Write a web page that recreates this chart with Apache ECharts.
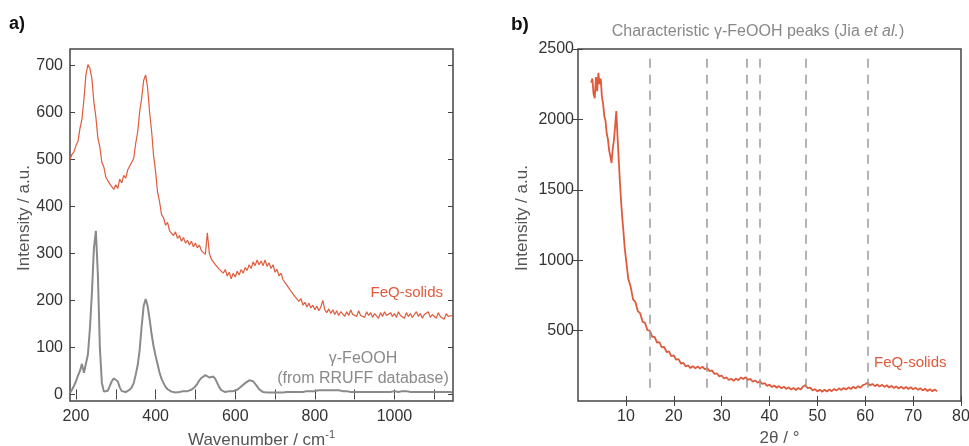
<!DOCTYPE html>
<html><head><meta charset="utf-8">
<script src="https://cdn.jsdelivr.net/npm/echarts@6/dist/echarts.min.js"></script>
<style>html,body{margin:0;padding:0;background:#fff}#c{width:969px;height:446px}</style>
</head><body><div id="c"></div>
<script>
// ---- Panel a) Raman ----
const ramanStart = 185, ramanStep = 5;   // wavenumber grid (cm-1)
const feqSolidsRaman = [
 500,511,516,530,538,566,585,628,680,702,
 694,672,622,590,546,526,494,484,462,466,
 448,452,436,446,438,458,450,466,460,478,
 474,494,502,534,558,602,630,668,680,652,
 600,560,508,474,430,410,382,376,360,366,
 348,352,338,346,332,338,326,334,322,328,
 318,326,314,322,312,318,306,310,298,344,
 300,288,290,276,280,266,270,258,266,252,
 260,246,258,250,262,254,266,258,270,264,
 276,268,282,274,286,276,284,274,286,272,
 280,268,276,260,266,252,258,244,248,232,
 236,220,224,208,212,198,204,190,196,186,
 194,184,190,180,188,178,186,200,180,174,
 182,172,180,170,178,168,176,172,166,176,
 168,180,170,174,166,178,168,172,164,176,
 168,174,164,172,168,162,174,166,176,168,
 164,174,166,172,164,176,168,170,162,174,
 166,172,164,170,176,166,172,162,170,166,
 176,164,170,168,162,174,166,170,160,172,
 166,170,168
];
const feoohRaman = [
 3,10,18,28,40,50,65,46,44,85,
 140,215,310,348,255,100,25,6,4,8,
 18,28,34,35,28,15,7,5,5,6,
 10,15,24,42,62,95,145,188,203,188,
 160,128,102,82,64,46,33,24,16,11,
 8,6,5,4,4,5,6,7,8,7,
 8,10,13,17,23,30,35,39,41,38,
 36,39,38,33,24,15,9,6,5,6,
 7,8,7,8,10,13,17,20,24,28,
 30,31,28,24,17,11,7,5,4,4,
 3,4,3,4,5,4,5,4,4,5,
 4,5,4,5,6,5,6,5,6,7,
 6,7,8,7,8,9,8,9,10,9,
 10,9,10,9,8,9,8,7,6,7,
 6,5,6,5,6,5,4,5,4,5,
 4,5,4,5,4,5,6,5,4,5,
 4,5,6,7,6,5,6,7,8,7,
 6,5,6,5,4,5,4,5,6,5,
 4,5,4,5,6,5,4,5,4,5,
 4,5,4
];
const ramanXMin = 185, ramanXMax = 1147, ramanYMin = -14, ramanYMax = 735;
const ramanXTicks = [200,300,400,500,600,700,800,900,1000,1100];
const ramanXLabels = [200,400,600,800,1000];
const ramanYTicks = [0,100,200,300,400,500,600,700];

// ---- Panel b) XRD ----
const xrdLowStart = 2.75, xrdLowStep = 0.25;
const xrdLow = [
 2260,2290,2180,2150,2300,2200,2330,2250,2290,2160,
 2110,2020,1990,1900,1860,1780,1740,1690,1790,1850,
 1950,2060,1880,1720,1560,1420,1300,1200,1090
];
const xrdHighStart = 10, xrdHighStep = 0.5;
const xrdHigh = [
 1015,868,812,722,702,638,622,562,556,503,
 500,455,456,414,418,380,384,348,352,318,
 324,293,297,266,271,245,253,234,248,232,
 246,230,244,225,234,212,217,192,197,175,
 181,160,168,149,158,143,159,148,167,156,
 169,150,157,137,146,130,141,121,127,107,
 117,99,110,94,106,90,102,86,97,81,
 93,78,92,81,103,113,91,95,75,85,
 68,81,66,80,67,82,70,86,74,90,
 78,93,81,97,85,101,89,105,94,113,
 119,129,111,121,105,117,102,115,100,112,
 96,108,92,104,89,102,87,100,85,98,
 83,95,79,91,75,87,71,84,69,81,
 70
];
const xrdXTicks = [10,20,30,40,50,60,70,80];
const xrdYTicks = [500,1000,1500,2000,2500];
const peakPositions = [15.0, 26.9, 35.2, 37.9, 47.6, 60.5];
const peakLineTop = 2430, peakLineBottom = 70;

// ---- build ----
const ramanPairs = arr => arr.map((v, i) => [ramanStart + i * ramanStep, v]);
const xrdPairs = xrdLow.map((v, i) => [xrdLowStart + i * xrdLowStep, v])
  .concat(xrdHigh.map((v, i) => [xrdHighStart + i * xrdHighStep, v]));

const FONT = "'Liberation Sans', Arial, Helvetica, sans-serif";
const RED = '#e05a3c', GRAY = '#8a8a8a', FRAME = '#444';
const tick = vals => ({show: true, inside: true, length: 5, customValues: vals, lineStyle: {color: FRAME, width: 1}});
const label = (vals, margin) => ({show: true, customValues: vals, margin: margin, formatter: v => String(v),
  color: '#333', fontSize: 16, fontFamily: FONT});
const nameStyle = extra => Object.assign({color: '#555', fontSize: 17, fontFamily: FONT}, extra);

function axis(grid, pos, min, max, ticks, labels, margin, extra) {
  return Object.assign({
    type: 'value', gridIndex: grid, position: pos, min: min, max: max,
    axisLine: {show: false}, splitLine: {show: false},
    axisTick: tick(ticks),
    axisLabel: labels ? label(labels, margin) : {show: false}
  }, extra || {});
}

const chart = echarts.init(document.getElementById('c'), null, {renderer: 'canvas'});
chart.setOption({
  animation: false,
  backgroundColor: '#fff',
  grid: [
    {left: 70, top: 49, right: 516, bottom: 45, outerBoundsMode: 'none', containLabel: false,
     show: true, borderColor: FRAME, borderWidth: 1.5, backgroundColor: 'transparent'},
    {left: 578, top: 49, right: 8, bottom: 45, outerBoundsMode: 'none', containLabel: false,
     show: true, borderColor: FRAME, borderWidth: 1.5, backgroundColor: 'transparent'}
  ],
  xAxis: [
    axis(0, 'bottom', ramanXMin, ramanXMax, ramanXTicks, ramanXLabels, 8, {
      name: 'Wavenumber / cm{sup|-1}', nameLocation: 'middle', nameGap: 27,
      nameTextStyle: nameStyle({rich: {sup: {fontSize: 11, color: '#555', fontFamily: FONT, padding: [0, 0, 9, 0]}}})}),
    axis(0, 'top', ramanXMin, ramanXMax, ramanXTicks, null),
    axis(1, 'bottom', 0, 80, xrdXTicks, xrdXTicks, 8, {
      name: '2θ / °', nameLocation: 'middle', nameGap: 27,
      nameTextStyle: nameStyle({padding: [0, 0, 0, 20]})}),
    axis(1, 'top', 0, 80, xrdXTicks, null)
  ],
  yAxis: [
    axis(0, 'left', ramanYMin, ramanYMax, ramanYTicks, ramanYTicks, 7, {
      name: 'Intensity / a.u.', nameLocation: 'middle', nameGap: 37,
      nameTextStyle: nameStyle({padding: [0, 0, 0, 14]})}),
    axis(0, 'right', ramanYMin, ramanYMax, ramanYTicks, null),
    axis(1, 'left', 0, 2500, xrdYTicks, xrdYTicks, 4, {
      name: 'Intensity / a.u.', nameLocation: 'middle', nameGap: 47,
      nameTextStyle: nameStyle({padding: [0, 0, 0, 14]})}),
    axis(1, 'right', 0, 2500, xrdYTicks, null)
  ],
  series: [
    {type: 'line', xAxisIndex: 0, yAxisIndex: 0, data: ramanPairs(feoohRaman), showSymbol: false,
     lineStyle: {color: GRAY, width: 2}, silent: true},
    {type: 'line', xAxisIndex: 0, yAxisIndex: 0, data: ramanPairs(feqSolidsRaman), showSymbol: false,
     lineStyle: {color: RED, width: 1.2}, silent: true},
    {type: 'line', xAxisIndex: 2, yAxisIndex: 2, data: xrdPairs, showSymbol: false,
     lineStyle: {color: RED, width: 1.8}, silent: true,
     markLine: {silent: true, symbol: ['none', 'none'], label: {show: false},
       lineStyle: {color: '#999', width: 1.5, type: [9, 7]},
       data: peakPositions.map(p => [{coord: [p, peakLineTop]}, {coord: [p, peakLineBottom]}])}}
  ],
  graphic: [
    {type: 'text', left: 9, top: 15, style: {text: 'a)', fontSize: 18, fontWeight: 'bold', fill: '#111', fontFamily: FONT}},
    {type: 'text', left: 511, top: 15, style: {text: 'b)', fontSize: 19, fontWeight: 'bold', fill: '#111', fontFamily: FONT}},
    {type: 'text', x: 758, y: 32, style: {
      text: 'Characteristic γ-FeOOH peaks (Jia {it|et al.})',
      rich: {it: {fontStyle: 'italic', fontSize: 16, fill: '#888', fontFamily: FONT}},
      fontSize: 16, fill: '#888', fontFamily: FONT, align: 'center', verticalAlign: 'middle'}},
    {type: 'text', x: 443, y: 293, style: {text: 'FeQ-solids', fontSize: 15, fill: RED, fontFamily: FONT, align: 'right', verticalAlign: 'middle'}},
    {type: 'text', x: 363, y: 359, style: {text: 'γ-FeOOH', fontSize: 16, fill: GRAY, fontFamily: FONT, align: 'center', verticalAlign: 'middle'}},
    {type: 'text', x: 363, y: 379, style: {text: '(from RRUFF database)', fontSize: 16, fill: GRAY, fontFamily: FONT, align: 'center', verticalAlign: 'middle'}},
    {type: 'text', x: 874, y: 363, style: {text: 'FeQ-solids', fontSize: 15, fill: RED, fontFamily: FONT, align: 'left', verticalAlign: 'middle'}}
  ]
});
</script></body></html>
